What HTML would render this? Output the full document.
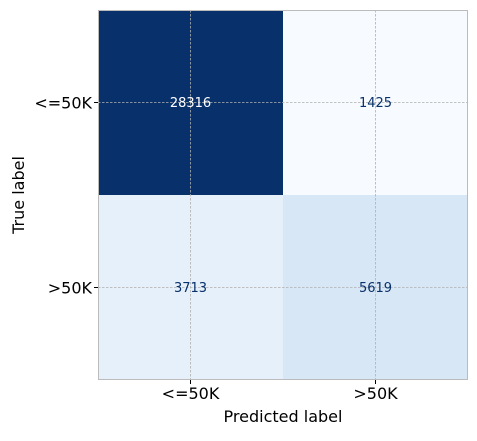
<!DOCTYPE html>
<html><head><meta charset="utf-8"><style>
body{margin:0;background:#fff;}
svg text{font-family:"DejaVu Sans","Liberation Sans",sans-serif;}
</style></head><body>
<svg id="c" width="477" height="436" xmlns="http://www.w3.org/2000/svg"></svg>
<script>
const rowLabels=["<=50K",">50K"];
const colLabels=["<=50K",">50K"];
const row0=[28316,1425];
const row1=[3713,5619];
const values=[row0,row1];

const NS="http://www.w3.org/2000/svg";
const svg=document.getElementById('c');
const L=98,T=10,W=370,H=370;
const n=colLabels.length;
const cw=W/n, ch=H/rowLabels.length;
const xC=j=>L+cw*(j+0.5);
const yC=i=>T+ch*(i+0.5);
const stops=["#f7fbff","#deebf7","#c6dbef","#9ecae1","#6baed6","#4292c6","#2171b5","#08519c","#08306b"];
function hex(h){return [1,3,5].map(k=>parseInt(h.substr(k,2),16));}
function blues(t){t=Math.max(0,Math.min(1,t));const p=t*8,i=Math.min(7,Math.floor(p)),f=p-i;const a=hex(stops[i]),b=hex(stops[i+1]);return "rgb("+a.map((v,k)=>Math.round(v+(b[k]-v)*f)).join(",")+")";}
const all=values.flat(),mn=Math.min(...all),mx=Math.max(...all);
function el(tag,attrs,txt){const e=document.createElementNS(NS,tag);for(const k in attrs)e.setAttribute(k,attrs[k]);if(txt!==undefined)e.textContent=txt;svg.appendChild(e);return e;}
values.forEach((row,i)=>row.forEach((v,j)=>{
  const t=(v-mn)/(mx-mn);
  const r=el('rect',{x:L+cw*j,y:T+ch*i,width:cw,height:ch,fill:blues(t)});
  
  
}));
// grid
for(let j=0;j<n;j++){const g=el('line',{x1:xC(j),x2:xC(j),y1:T,y2:T+H,stroke:"#b0b0b0","stroke-width":0.8,"stroke-dasharray":"2.5,1.5"});}
for(let i=0;i<rowLabels.length;i++){const g=el('line',{x1:L,x2:L+W,y1:yC(i),y2:yC(i),stroke:"#b0b0b0","stroke-width":0.8,"stroke-dasharray":"2.5,1.5"});}
values.forEach((row,i)=>row.forEach((v,j)=>{
  const t=(v-mn)/(mx-mn);
  const tx=el('text',{x:xC(j),y:yC(i)+4.5,"text-anchor":"middle","font-size":13,fill:t>0.5?"#ffffff":"#08306b"},String(v));
  
  
}));
const fr=el('rect',{x:L+0.5,y:T+0.5,width:W-1,height:H-1,fill:"none",stroke:"#bbbbbb","stroke-width":1});

colLabels.forEach((lab,j)=>{
  const tk=el('line',{x1:xC(j),x2:xC(j),y1:T+H,y2:T+H+4,stroke:"#000"});
  const t=el('text',{x:xC(j),y:T+H+19,"text-anchor":"middle","font-size":16,fill:"#000"},lab);
});
rowLabels.forEach((lab,i)=>{
  const tk=el('line',{x1:L-4,x2:L,y1:yC(i),y2:yC(i),stroke:"#000"});
  const t=el('text',{x:L-6,y:yC(i)+6,"text-anchor":"end","font-size":16,fill:"#000"},lab);
});
const xt=el('text',{x:L+W/2,y:422,"text-anchor":"middle","font-size":16,fill:"#000"},"Predicted label");

const yt=el('text',{x:0,y:0,"text-anchor":"middle","font-size":16,fill:"#000",transform:"translate(24,"+(T+H/2)+") rotate(-90)"},"True label");

</script>
</body></html>
